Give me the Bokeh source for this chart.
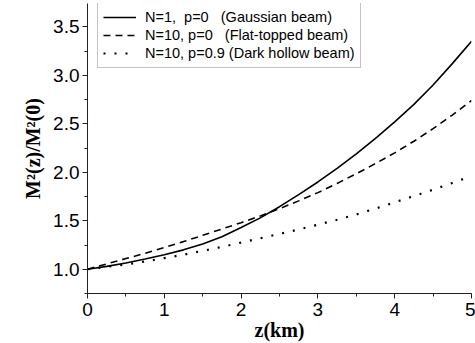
from bokeh.plotting import figure
from bokeh.models import Range1d, FixedTicker, Legend, LegendItem
from bokeh.embed import file_html
from bokeh.resources import INLINE

# Data
z_km = [0.0, 0.25, 0.5, 0.75, 1.0, 1.25, 1.5, 1.75, 2.0, 2.25, 2.5,
        2.75, 3.0, 3.25, 3.5, 3.75, 4.0, 4.25, 4.5, 4.75, 5.0]
gaussian = [1.00, 1.03, 1.065, 1.105, 1.15, 1.20, 1.26, 1.335, 1.43, 1.53, 1.645,
            1.77, 1.90, 2.04, 2.19, 2.35, 2.52, 2.70, 2.90, 3.12, 3.35]
flat_topped = [1.00, 1.055, 1.11, 1.165, 1.225, 1.285, 1.35, 1.415, 1.48, 1.55, 1.625,
               1.705, 1.79, 1.885, 1.985, 2.09, 2.20, 2.32, 2.45, 2.59, 2.74]
dark_hollow = [1.00, 1.025, 1.05, 1.08, 1.115, 1.15, 1.19, 1.23, 1.275, 1.32, 1.365,
               1.41, 1.46, 1.51, 1.565, 1.625, 1.69, 1.755, 1.82, 1.89, 1.96]

series_labels = [
    "N=1,  p=0   (Gaussian beam)",
    "N=10, p=0   (Flat-topped beam)",
    "N=10, p=0.9 (Dark hollow beam)",
]
x_ticks = [0, 1, 2, 3, 4, 5]
y_ticks = [1.0, 1.5, 2.0, 2.5, 3.0, 3.5]

p = figure(width=475, height=343, output_backend="svg", toolbar_location=None,
           x_range=Range1d(0, 5), y_range=Range1d(0.75, 3.74),
           min_border_left=87, min_border_right=4, min_border_top=3,
           min_border_bottom=50)
p.outline_line_color = None
p.grid.visible = False
p.background_fill_color = "white"
p.border_fill_color = "white"

r1 = p.line(z_km, gaussian, line_color="black", line_width=1.6)
r2 = p.line(z_km, flat_topped, line_color="black", line_width=1.6, line_dash="7 5")
r3 = p.line(z_km, dark_hollow, line_color="black", line_width=2.2, line_dash="2 9")

for ax in (p.xaxis[0], p.yaxis[0]):
    ax.axis_line_color = "#222222"
    ax.major_tick_line_color = "#222222"
    ax.minor_tick_line_color = "#222222"
    ax.major_tick_out = 5
    ax.major_tick_in = 0
    ax.minor_tick_out = 3
    ax.minor_tick_in = 0
    ax.major_label_text_font = "Liberation Sans"
    ax.major_label_text_font_size = "19px"
    ax.major_label_text_color = "black"
    ax.axis_label_text_font = "Liberation Serif"
    ax.axis_label_text_font_style = "bold"
    ax.axis_label_text_font_size = "20px"
    ax.axis_label_text_color = "black"

p.xaxis.ticker = FixedTicker(ticks=x_ticks, minor_ticks=[0.5 * i for i in range(11)])
p.yaxis.ticker = FixedTicker(ticks=y_ticks, minor_ticks=[0.75 + 0.25 * i for i in range(12)])
p.xaxis.major_label_overrides = {t: str(t) for t in x_ticks}
p.yaxis.major_label_overrides = {t: f"{t:.1f}" for t in y_ticks}
p.xaxis.axis_label = "z(km)"
p.yaxis.axis_label = "M\u00b2(z)/M\u00b2(0)"
p.xaxis.major_label_standoff = 4
p.yaxis.major_label_standoff = 3
p.xaxis.axis_label_standoff = 0
p.yaxis.axis_label_standoff = 6

legend = Legend(items=[LegendItem(label=series_labels[0], renderers=[r1]),
                       LegendItem(label=series_labels[1], renderers=[r2]),
                       LegendItem(label=series_labels[2], renderers=[r3])],
                location=(10, 225))
legend.label_text_font = "Liberation Sans"
legend.label_text_font_size = "14.5px"
legend.label_text_color = "black"
legend.border_line_color = "#888888"
legend.border_line_width = 1
legend.padding = 5
legend.spacing = 0
legend.label_height = 18
legend.glyph_height = 18
legend.glyph_width = 33
legend.label_standoff = 9
legend.margin = 0
legend.background_fill_alpha = 1
p.add_layout(legend)

open("out.html", "w").write(file_html(p, INLINE))
